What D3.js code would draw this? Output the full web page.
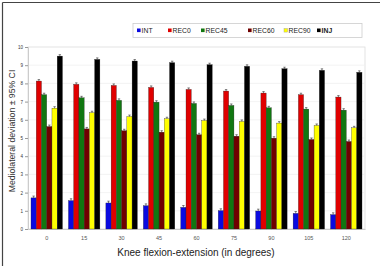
<!DOCTYPE html>
<html><head><meta charset="utf-8">
<script src="https://cdn.jsdelivr.net/npm/d3@7"></script>
<style>body{margin:0;background:#fff}svg{display:block}</style>
</head><body><svg id="c" width="380" height="268"></svg>
<script>
const categories = ["0","15","30","45","60","75","90","105","120"];
const seriesNames = ["INT","REC0","REC45","REC60","REC90","INJ"];
const seriesColors = ["#0a0ae0","#e00000","#117711","#700000","#ffff00","#000000"];
const INT   = [1.71,1.56,1.43,1.28,1.19,1.01,0.99,0.86,0.79];
const REC0  = [8.13,7.95,7.89,7.78,7.67,7.58,7.47,7.38,7.25];
const REC45 = [7.38,7.21,7.07,6.97,6.90,6.79,6.66,6.59,6.53];
const REC60 = [5.63,5.50,5.40,5.32,5.18,5.10,4.99,4.92,4.81];
const REC90 = [6.64,6.39,6.18,6.06,5.96,5.91,5.82,5.69,5.56];
const INJ   = [9.50,9.32,9.23,9.14,9.03,8.94,8.81,8.72,8.61];
const ERR   = [0.10,0.08,0.08,0.08,0.08,0.08];
const yTicks = [0,1,2,3,4,5,6,7,8,9,10];

const values = [INT,REC0,REC45,REC60,REC90,INJ];
const svg = d3.select("#c");
const m = {l:28, r:365, t:47, b:229};
const FF = "Arial, Liberation Sans, sans-serif";

// outer frame
svg.append("line").attr("x1",2.5).attr("x2",380).attr("y1",2.5).attr("y2",2.5).attr("stroke","#444").attr("stroke-width",1.2);
svg.append("line").attr("x1",2.5).attr("x2",2.5).attr("y1",2.5).attr("y2",266).attr("stroke","#444").attr("stroke-width",1.2);

const x0 = d3.scaleBand().domain(categories).range([m.l,m.r]).paddingInner(0.16).paddingOuter(0.08);
const x1 = d3.scaleBand().domain(seriesNames).range([0,x0.bandwidth()]);
const y = d3.scaleLinear().domain([0,10]).range([m.b,m.t]);

// plot area
svg.append("rect").attr("x",m.l).attr("y",m.t).attr("width",m.r-m.l).attr("height",m.b-m.t)
  .attr("fill","#fff").attr("stroke","#ddd").attr("stroke-width",0.8);
// gridlines
svg.append("g").selectAll("line").data(yTicks.filter(d=>d>0&&d<10)).join("line")
  .attr("x1",m.l).attr("x2",m.r).attr("y1",d=>y(d)).attr("y2",d=>y(d))
  .attr("stroke","#f0f0f0").attr("stroke-width",0.8);

// y axis
const ya = svg.append("g").attr("transform",`translate(${m.l},0)`)
  .call(d3.axisLeft(y).tickValues(yTicks).tickSize(3).tickFormat(d3.format("d")));
ya.select(".domain").attr("stroke","#ccc");
ya.selectAll(".tick line").attr("stroke","#999");
ya.selectAll("text").attr("font-family",FF).attr("font-size",4.5).attr("fill","#333").attr("x",-5);

// x axis
const xa = svg.append("g").attr("transform",`translate(0,${m.b})`)
  .call(d3.axisBottom(x0).tickSize(0));
xa.select(".domain").attr("stroke","#ccc");
xa.selectAll("text").attr("font-family",FF).attr("font-size",5.5).attr("fill","#555").attr("dy","1.5em");

// bars
const groups = svg.append("g").selectAll("g").data(categories).join("g")
  .attr("transform",d=>`translate(${x0(d)},0)`);
groups.each(function(cat,ci){
  const g = d3.select(this);
  seriesNames.forEach((s,si)=>{
    const v = values[si][ci];
    g.append("rect").attr("x",x1(s)).attr("y",y(v)).attr("width",x1.bandwidth()).attr("height",y(0)-y(v))
      .attr("fill",seriesColors[si]).attr("stroke","#222").attr("stroke-width",0.3);
    const cx = x1(s)+x1.bandwidth()/2;
    g.append("line").attr("x1",cx).attr("x2",cx).attr("y1",y(v+ERR[si])).attr("y2",y(v)).attr("stroke","#333").attr("stroke-width",0.6);
    g.append("line").attr("x1",cx-1.2).attr("x2",cx+1.2).attr("y1",y(v+ERR[si])).attr("y2",y(v+ERR[si])).attr("stroke","#333").attr("stroke-width",0.6);
  });
});

// titles
svg.append("text").attr("x",196).attr("y",255.5).attr("text-anchor","middle")
  .attr("font-family",FF).attr("font-size",10).attr("fill","#222")
  .text("Knee flexion-extension (in degrees)");
svg.append("text").attr("transform",`translate(15,131) rotate(-90)`).attr("text-anchor","middle")
  .attr("font-family",FF).attr("font-size",8.7).attr("fill","#333")
  .text("Mediolateral deviation ± 95% CI");

// legend
const lg = svg.append("g");
lg.append("rect").attr("x",133).attr("y",23.5).attr("width",229).attr("height",14)
  .attr("fill","#fff").attr("stroke","#ccc").attr("stroke-width",0.8);
const lx = [137,168,201,248,284,317];
seriesNames.forEach((s,i)=>{
  lg.append("rect").attr("x",lx[i]).attr("y",28.5).attr("width",3.6).attr("height",3.6)
    .attr("fill",seriesColors[i]).attr("stroke",i===4?"#999":"none").attr("stroke-width",0.4);
  lg.append("text").attr("x",lx[i]+4.6).attr("y",33).attr("font-family",FF)
    .attr("font-size",6.8).attr("fill","#222").attr("font-weight",s==="INJ"?"bold":"normal").text(s);
});
</script></body></html>
